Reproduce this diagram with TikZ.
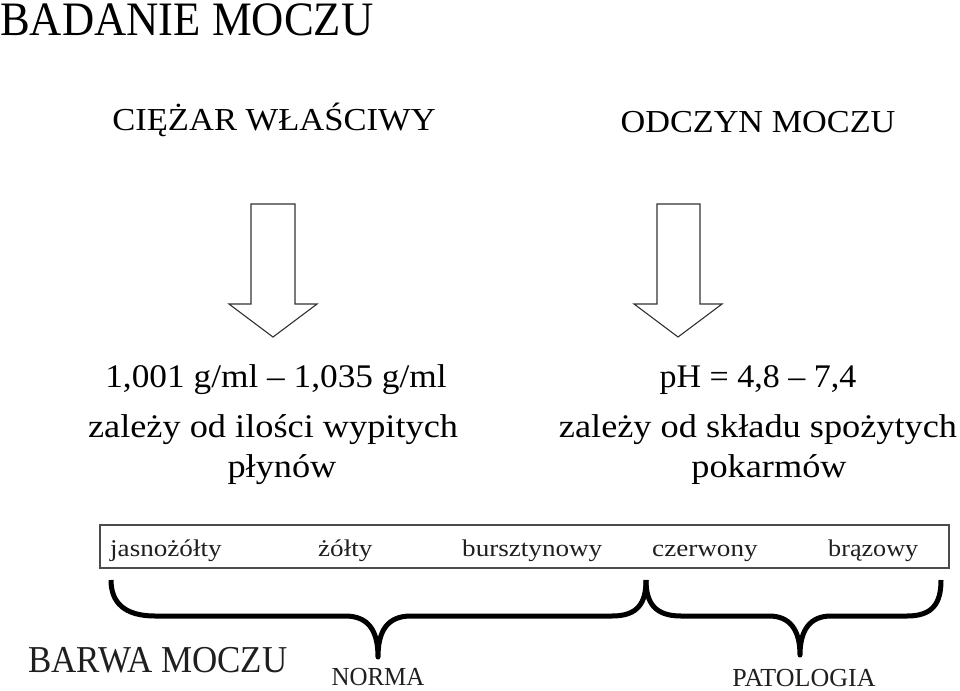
\documentclass[tikz,border=0pt]{standalone}
\usepackage{fontspec}
\setmainfont{Liberation Serif}
\usepackage{graphicx}
\newcommand\fz[3]{\scalebox{#2}[1]{\fontsize{#1}{#1}\selectfont #3}}
\tikzset{
  txt/.style={inner sep=0pt, anchor=base, text=black},
  txtw/.style={inner sep=0pt, anchor=base west, text=black!88},
  blockarrow/.style={draw=black!80, line width=1.1pt, fill=white, line join=miter},
  colbox/.style={draw=black!70, line width=1.3pt},
  bracestroke/.style={draw=black, line width=5pt, line join=round, line cap=butt}
}
\begin{document}
\begin{tikzpicture}[x=1pt,y=-1pt]
\useasboundingbox (0,0) rectangle (960,690);

% titles
\node[txtw, text=black] (title) at (0,36) {\fz{48}{0.93}{BADANIE MOCZU}};
\node[txt] (ciezar) at (274,131) {\fz{32}{1.08}{CIĘŻAR WŁAŚCIWY}};
\node[txt] (odczyn) at (758,132) {\fz{32}{1.07}{ODCZYN MOCZU}};

% block arrows
\coordinate (la1) at (251,204); \coordinate (la2) at (295,204);
\coordinate (la3) at (295,304); \coordinate (la4) at (317,304);
\coordinate (lat) at (273,337); \coordinate (la5) at (229,304);
\coordinate (la6) at (251,304);
\draw[blockarrow] (la1) -- (la2) -- (la3) -- (la4) -- (lat) -- (la5) -- (la6) -- cycle;
\coordinate (ra1) at (657,204); \coordinate (ra2) at (700,204);
\coordinate (ra3) at (700,304); \coordinate (ra4) at (722,304);
\coordinate (rat) at (678,337); \coordinate (ra5) at (634,304);
\coordinate (ra6) at (657,304);
\draw[blockarrow] (ra1) -- (ra2) -- (ra3) -- (ra4) -- (rat) -- (ra5) -- (ra6) -- cycle;

% left text
\node[txt] (l1) at (276,387) {\fz{33}{1.07}{1,001 g/ml – 1,035 g/ml}};
\node[txt] (l2) at (273,437) {\fz{33}{1.1}{zależy od ilości wypitych}};
\node[txt] (l3) at (282,477) {\fz{33}{1.1}{płynów}};

% right text
\node[txt] (r1) at (758,387) {\fz{33}{1.03}{pH = 4,8 – 7,4}};
\node[txt] (r2) at (758,437) {\fz{33}{1.1}{zależy od składu spożytych}};
\node[txt] (r3) at (769,477) {\fz{33}{1.1}{pokarmów}};

% colour box
\coordinate (boxnw) at (100,525); \coordinate (boxse) at (949,568);
\draw[colbox] (boxnw) rectangle (boxse);
\node[txtw] (c1) at (110,556) {\fz{24}{1.13}{jasnożółty}};
\node[txtw] (c2) at (318,556) {\fz{24}{1.13}{żółty}};
\node[txtw] (c3) at (462,556) {\fz{24}{1.13}{bursztynowy}};
\node[txtw] (c4) at (652,556) {\fz{24}{1.13}{czerwony}};
\node[txtw] (c5) at (828,556) {\fz{24}{1.09}{brązowy}};

% braces
\coordinate (bl) at (111,580); \coordinate (bm) at (646,580); \coordinate (br) at (941,580);
\coordinate (tipn) at (378,657); \coordinate (tipp) at (800,655);
\draw[bracestroke] (bl) .. controls (111,603) and (125,616) .. (155,616) -- (345,616)
  .. controls (368,616) and (378,630) .. (tipn)
  .. controls (378,630) and (388,616) .. (411,616) -- (612,616)
  .. controls (638,616) and (646,603) .. (bm);
\draw[bracestroke] (bm) .. controls (646,603) and (655,616) .. (681,616) -- (769,616)
  .. controls (790,616) and (800,630) .. (tipp)
  .. controls (800,630) and (810,616) .. (831,616) -- (907,616)
  .. controls (933,616) and (941,603) .. (br);

% bottom labels
\node[txtw] (barwa) at (28,672) {\fz{38}{0.92}{BARWA MOCZU}};
\node[txtw, anchor=base] (norma) at (378,685) {\fz{26}{0.96}{NORMA}};
\node[txtw, anchor=base] (patol) at (804,686) {\fz{26}{1.0}{PATOLOGIA}};
\end{tikzpicture}
\end{document}
